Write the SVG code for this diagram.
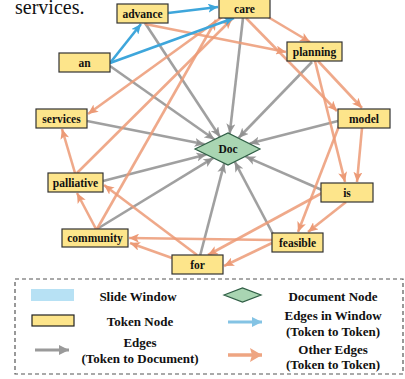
<svg xmlns="http://www.w3.org/2000/svg" width="405" height="379" viewBox="0 0 405 379">
<style>
.node rect{fill:#fde58b;stroke:#333;stroke-width:1.2}
.ser{font-family:'Liberation Serif','Times New Roman',Times,'DejaVu Serif',serif}
.lbl{font-family:'Liberation Serif','Times New Roman',Times,'DejaVu Serif',serif;font-weight:bold;font-size:11.5px;fill:#111;text-anchor:middle;dominant-baseline:central}
.leg{font-family:'Liberation Serif','Times New Roman',Times,'DejaVu Serif',serif;font-weight:bold;font-size:13px;fill:#111;text-anchor:middle;dominant-baseline:central}
.g{stroke:#8f8f8f;stroke-opacity:.85;stroke-width:2.6;fill:none;marker-end:url(#ag)}
.o{stroke:#ec9a76;stroke-opacity:.85;stroke-width:2.6;fill:none;marker-end:url(#ao)}
.b{stroke:#3ea6db;stroke-width:2.6;fill:none;marker-end:url(#ab)}
</style>
<defs>
<marker id="ag" markerUnits="userSpaceOnUse" markerWidth="10" markerHeight="9" refX="10" refY="4.5" orient="auto"><path d="M0,0 L10,4.5 L0,9 L2.5,4.5 z" fill="#8f8f8f" fill-opacity=".9"/></marker>
<marker id="ao" markerUnits="userSpaceOnUse" markerWidth="10" markerHeight="9" refX="10" refY="4.5" orient="auto"><path d="M0,0 L10,4.5 L0,9 L2.5,4.5 z" fill="#ec9a76"/></marker>
<marker id="ab" markerUnits="userSpaceOnUse" markerWidth="10" markerHeight="9" refX="10" refY="4.5" orient="auto"><path d="M0,0 L10,4.5 L0,9 L2.5,4.5 z" fill="#3ea6db"/></marker>
<marker id="lb" markerUnits="userSpaceOnUse" markerWidth="10" markerHeight="10" refX="10" refY="5" orient="auto"><path d="M0,0 L10,5 L0,10 z" fill="#84c3e4"/></marker>
<marker id="lg" markerUnits="userSpaceOnUse" markerWidth="10" markerHeight="10" refX="10" refY="5" orient="auto"><path d="M0,0 L10,5 L0,10 z" fill="#9a9a9a"/></marker>
<marker id="lo" markerUnits="userSpaceOnUse" markerWidth="12" markerHeight="14" refX="12" refY="7" orient="auto"><path d="M0,0 L12,7 L0,14 L2,7 z" fill="#eea582"/></marker>
</defs>
<text class="ser" x="15" y="14" font-size="20" fill="#111">services.</text>
<g id="edges">
<g id="gray-edges">
<line class="g" x1="110" y1="66" x2="214.5" y2="139.5"/>
<line class="g" x1="145" y1="23" x2="220" y2="137"/>
<line class="g" x1="243" y1="18" x2="229.7" y2="133.8"/>
<line class="g" x1="312" y1="62" x2="238.5" y2="138"/>
<line class="g" x1="338" y1="121" x2="249.7" y2="143.5"/>
<line class="g" x1="322" y1="190" x2="245.6" y2="156.6"/>
<line class="g" x1="274" y1="236" x2="234.7" y2="161.7"/>
<line class="g" x1="200" y1="256" x2="224.3" y2="163.2"/>
<line class="g" x1="97" y1="229" x2="213.4" y2="157.9"/>
<line class="g" x1="103" y1="181" x2="206.4" y2="154.5"/>
<line class="g" x1="87" y1="121" x2="204.6" y2="144.3"/>
</g>
<g id="other-edges">
<line class="o" x1="145" y1="24" x2="286" y2="52"/>
<line class="o" x1="268" y1="17" x2="310" y2="42"/>
<line class="o" x1="246" y1="18" x2="337" y2="111"/>
<line class="o" x1="222" y1="17" x2="88" y2="114"/>
<line class="o" x1="318" y1="61" x2="362" y2="108"/>
<line class="o" x1="315" y1="61" x2="345" y2="182"/>
<line class="o" x1="362" y1="128" x2="357" y2="182"/>
<line class="o" x1="339" y1="126" x2="298" y2="232"/>
<line class="o" x1="346" y1="202" x2="308" y2="232"/>
<line class="o" x1="322" y1="193" x2="208" y2="255"/>
<line class="o" x1="272" y1="243" x2="224" y2="266"/>
<line class="o" x1="272" y1="240" x2="129" y2="238"/>
<line class="o" x1="172" y1="258" x2="130" y2="243"/>
<line class="o" x1="197" y1="255" x2="104" y2="185"/>
<line class="o" x1="96" y1="229" x2="77" y2="193"/>
<line class="o" x1="75" y1="173" x2="62" y2="129"/>
<line class="o" x1="77" y1="173" x2="232" y2="19"/>
<line class="o" x1="97" y1="229" x2="216" y2="20"/>
</g>
<g id="window-edges">
<line class="b" x1="168" y1="13" x2="218" y2="7"/>
<line class="b" x1="110" y1="63" x2="141" y2="24"/>
<line class="b" x1="110" y1="63" x2="234" y2="18"/>
</g>
</g>
<g id="doc"><polygon points="195,149 228,133 260,149 228,165" fill="#a9d5b2" stroke="#2f5e45" stroke-width="1.2"/><text class="lbl" x="228" y="149">Doc</text></g>
<g id="n-advance" class="node"><rect x="117" y="4" width="51" height="19"/><text class="lbl" x="142.5" y="13.5">advance</text></g>
<g id="n-care" class="node"><rect x="219" y="-1" width="51" height="19"/><text class="lbl" x="244.5" y="8.5">care</text></g>
<g id="n-an" class="node"><rect x="59" y="53" width="51" height="19"/><text class="lbl" x="84.5" y="62.5">an</text></g>
<g id="n-planning" class="node"><rect x="287" y="42" width="55" height="19"/><text class="lbl" x="314.5" y="51.5">planning</text></g>
<g id="n-services" class="node"><rect x="36" y="109" width="51" height="19"/><text class="lbl" x="61.5" y="118.5">services</text></g>
<g id="n-model" class="node"><rect x="338" y="109" width="52" height="19"/><text class="lbl" x="364" y="118.5">model</text></g>
<g id="n-palliative" class="node"><rect x="48" y="173" width="55" height="19"/><text class="lbl" x="75.5" y="182.5">palliative</text></g>
<g id="n-is" class="node"><rect x="321" y="183" width="52" height="19"/><text class="lbl" x="347" y="192.5">is</text></g>
<g id="n-community" class="node"><rect x="62" y="229" width="66" height="18"/><text class="lbl" x="95" y="238">community</text></g>
<g id="n-feasible" class="node"><rect x="272" y="233" width="51" height="19"/><text class="lbl" x="297.5" y="242.5">feasible</text></g>
<g id="n-for" class="node"><rect x="172" y="255" width="51" height="19"/><text class="lbl" x="197.5" y="264.5">for</text></g>
<g id="legend">
<rect x="15" y="279" width="388" height="95" fill="none" stroke="#555" stroke-width="1.2" stroke-dasharray="4,3"/>
<rect x="31" y="289" width="43" height="12" fill="#b7e1f4"/>
<text class="leg" x="138" y="296">Slide Window</text>
<polygon points="224,295 242.5,288 261,295 242.5,302" fill="#a9d5b2" stroke="#2f5e45" stroke-width="1.2"/>
<text class="leg" x="333" y="296">Document Node</text>
<rect x="32" y="315" width="42" height="11" fill="#fde58b" stroke="#222" stroke-width="1.2"/>
<text class="leg" x="140" y="321">Token Node</text>
<line x1="228" y1="322" x2="262" y2="322" stroke="#84c3e4" stroke-width="3" marker-end="url(#lb)"/>
<text class="leg" x="333" y="315">Edges in Window</text>
<text class="leg" x="333" y="331">(Token to Token)</text>
<line x1="35" y1="350" x2="69" y2="350" stroke="#9a9a9a" stroke-width="3" marker-end="url(#lg)"/>
<text class="leg" x="140" y="342">Edges</text>
<text class="leg" x="140" y="358">(Token to Document)</text>
<line x1="228" y1="355" x2="262" y2="355" stroke="#eea582" stroke-width="3.5" marker-end="url(#lo)"/>
<text class="leg" x="333" y="349">Other Edges</text>
<text class="leg" x="333" y="364">(Token to Token)</text>
</g>
</svg>
